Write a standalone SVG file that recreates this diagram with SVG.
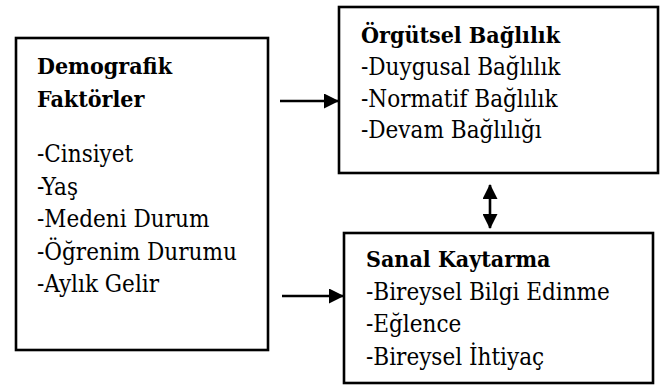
<svg xmlns="http://www.w3.org/2000/svg" width="663" height="392" viewBox="0 0 663 392">
<style>
.box{fill:#fff;stroke:#000;stroke-width:2.6}
text{font-family:"DejaVu Serif Condensed","DejaVu Serif",serif;font-stretch:condensed;font-size:24px;fill:#000}
.b{font-weight:bold;font-size:23px}
.c{stroke:#000;stroke-width:2.6;fill:none}
</style>
<defs>
<marker id="ah" markerWidth="15" markerHeight="15" refX="14" refY="7.5" orient="auto-start-reverse" markerUnits="userSpaceOnUse">
<path d="M0,0 L15,7.5 L0,15 Z" fill="#000"/>
</marker>
</defs>
<rect width="663" height="392" fill="#fff"/>
<g id="demografik">
<rect class="box" x="16" y="38" width="252" height="312"/>
<text class="b" x="37" y="74">Demografik</text>
<text class="b" x="37" y="107">Faktörler</text>
<text x="37" y="162">-Cinsiyet</text>
<text x="37" y="194.5">-Yaş</text>
<text x="37" y="227">-Medeni Durum</text>
<text x="37" y="259.5">-Öğrenim Durumu</text>
<text x="37" y="292">-Aylık Gelir</text>
</g>
<g id="orgutsel">
<rect class="box" x="339" y="7" width="319" height="166"/>
<text class="b" x="361" y="43">Örgütsel Bağlılık</text>
<text x="361" y="75">-Duygusal Bağlılık</text>
<text x="361" y="106.5">-Normatif Bağlılık</text>
<text x="361" y="138">-Devam Bağlılığı</text>
</g>
<g id="sanal">
<rect class="box" x="344" y="233" width="309" height="150"/>
<text class="b" x="366" y="267">Sanal Kaytarma</text>
<text x="366" y="300">-Bireysel Bilgi Edinme</text>
<text x="366" y="332">-Eğlence</text>
<text x="366" y="365">-Bireysel İhtiyaç</text>
</g>
<g id="connectors">
<line class="c" x1="280" y1="101" x2="338" y2="101" marker-end="url(#ah)"/>
<line class="c" x1="282" y1="296" x2="343" y2="296" marker-end="url(#ah)"/>
<line class="c" x1="490" y1="185" x2="490" y2="228" marker-start="url(#ah)" marker-end="url(#ah)"/>
</g>
</svg>
